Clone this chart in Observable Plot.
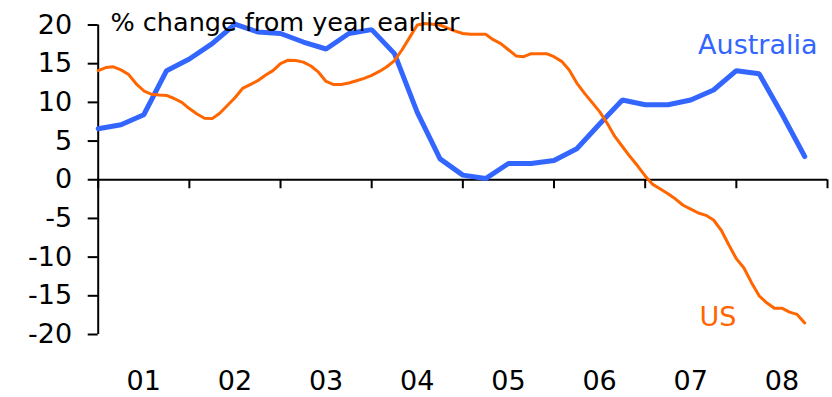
<!DOCTYPE html>
<html>
<head>
<meta charset="utf-8">
<script src="https://cdn.jsdelivr.net/npm/d3@7"></script>
<script src="https://cdn.jsdelivr.net/npm/@observablehq/plot@0.6"></script>
<style>
  html, body { margin: 0; padding: 0; background: #fff; }
  #chart svg { display: block; }
</style>
</head>
<body>
<div id="chart"></div>
<script>
// House prices, % change from year earlier
const startYear = 2001;

// Australia: quarterly, Q1 2001 – Q4 2008
const australia = [
  6.6, 7.1, 8.4, 14.1, 15.6, 17.6, 20.1, 19.1,
  18.9, 17.8, 16.9, 18.9, 19.4, 16.3, 8.7, 2.7,
  0.6, 0.15, 2.1, 2.1, 2.5, 4.0, 7.2, 10.3,
  9.7, 9.7, 10.3, 11.6, 14.1, 13.7, 8.5, 3.0
];

// US: monthly, Jan 2001 – Oct 2008
const us = [
  14.1, 14.5, 14.6, 14.2, 13.6, 12.4, 11.5, 11.05, 10.95, 10.9, 10.5, 10.0,
  9.2, 8.5, 7.95, 7.9, 8.6, 9.6, 10.6, 11.8, 12.3, 12.8, 13.5, 14.1,
  15.0, 15.45, 15.4, 15.2, 14.7, 13.9, 12.7, 12.3, 12.3, 12.5, 12.8, 13.1,
  13.5, 14.0, 14.6, 15.4, 16.8, 18.4, 20.0, 20.2, 20.1, 20.0, 19.6, 19.2,
  18.9, 18.8, 18.8, 18.8, 18.1, 17.6, 16.8, 16.0, 15.9, 16.3, 16.3, 16.3,
  15.9, 15.3, 14.2, 12.5, 11.2, 10.0, 8.8, 7.3, 5.6, 4.3, 3.0, 1.8,
  0.5, -0.6, -1.2, -1.8, -2.5, -3.3, -3.8, -4.3, -4.6, -5.2, -6.5, -8.4,
  -10.2, -11.4, -13.3, -15.0, -15.9, -16.6, -16.6, -17.1, -17.4, -18.5
];

const yearTicks = [2001, 2002, 2003, 2004, 2005, 2006, 2007, 2008, 2009];
const yearLabels = ["01", "02", "03", "04", "05", "06", "07", "08"];
const yTicks = [-20, -15, -10, -5, 0, 5, 10, 15, 20];

const titleText = "% change from year earlier";
const seriesNames = ["Australia", "US"];
const colors = {Australia: "#3366ff", US: "#ff6600"};

const ausRows = australia.map((v, i) => ({t: startYear + i / 4, v}));
const usRows = us.map((v, i) => ({t: startYear + i / 12, v}));
const labelRows = yearLabels.map((s, i) => ({t: startYear + i + 0.5, s}));

const font = "DejaVu Sans, Verdana, sans-serif";
const fs = 27;

const chart = Plot.plot({
  width: 832,
  height: 397,
  marginLeft: 97.7,
  marginRight: 5,
  marginTop: 24.5,
  marginBottom: 63,
  style: {fontFamily: font, background: "#fff", color: "#000"},
  x: {domain: [2001, 2009], axis: null},
  y: {domain: [-20, 20], axis: null},
  marks: [
    // y axis
    Plot.axisY({
      ticks: yTicks, tickSize: 10, tickPadding: 16, tickFormat: d => String(d),
      fontSize: fs, strokeWidth: 2, label: null, stroke: "#000", fill: "#000"
    }),
    Plot.ruleX([2001], {y1: -20, y2: 20, stroke: "#000", strokeWidth: 2}),
    // zero line with year ticks
    Plot.ruleY([0], {x1: 2001, x2: 2009, stroke: "#000", strokeWidth: 2}),
    Plot.ruleX(yearTicks, {x: d => d, y1: 0, y2: 0, insetBottom: -9, stroke: "#000", strokeWidth: 2}),
    // year labels centred in each year
    Plot.text(labelRows, {
      x: "t", text: "s", frameAnchor: "bottom", lineAnchor: "top", dy: 36,
      fontSize: fs, fill: "#000"
    }),
    // series
    Plot.line(ausRows, {x: "t", y: "v", stroke: colors.Australia, strokeWidth: 5, strokeLinejoin: "miter"}),
    Plot.line(usRows, {x: "t", y: "v", stroke: colors.US, strokeWidth: 3}),
    // annotations
    Plot.text([titleText], {
      frameAnchor: "top-left", textAnchor: "start", lineAnchor: "bottom",
      dx: 12.3, dy: 5.5, fontSize: 25.5, fill: "#000"
    }),
    Plot.text([seriesNames[0]], {
      frameAnchor: "top-right", textAnchor: "end", lineAnchor: "bottom",
      dx: -10, dy: 28.5, fontSize: fs, fill: colors.Australia
    }),
    Plot.text([seriesNames[1]], {
      frameAnchor: "bottom-right", textAnchor: "start", lineAnchor: "bottom",
      dx: -128, dy: -9, fontSize: fs, fill: colors.US
    })
  ]
});

document.getElementById("chart").appendChild(chart);
</script>
</body>
</html>
